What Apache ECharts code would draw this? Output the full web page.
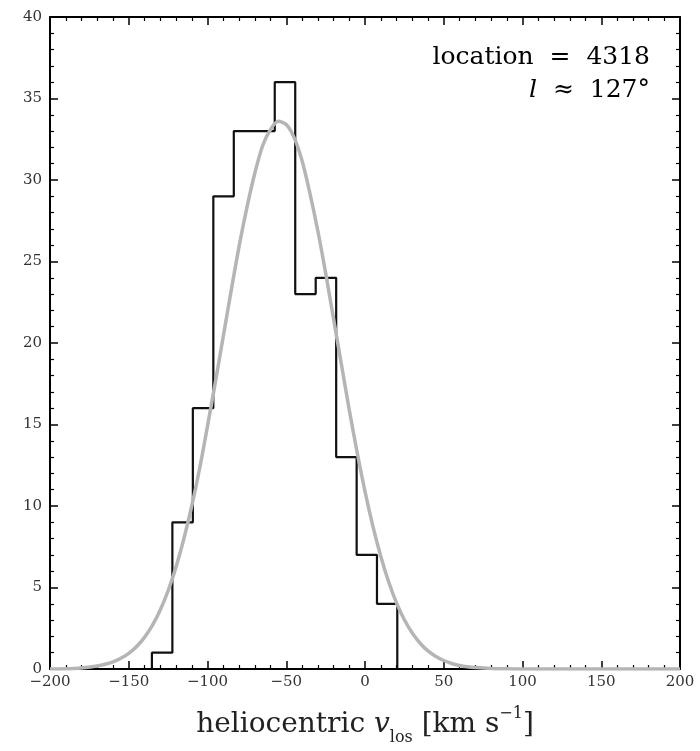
<!DOCTYPE html>
<html><head><meta charset="utf-8">
<script src="https://cdn.jsdelivr.net/npm/echarts@6/dist/echarts.min.js"></script>
<style>html,body{margin:0;padding:0;background:#fff}#c{width:700px;height:751px}</style>
</head><body><div id="c"></div>
<script>
// histogram bin edges (km/s) and counts
const binEdges = [-135.3, -122.3, -109.3, -96.3, -83.3, -70.3, -57.3, -44.3, -31.3, -18.3, -5.3, 7.6, 20.5];
const binCounts = [1, 9, 16, 29, 33, 33, 36, 23, 24, 13, 7, 4];
// grey fitted curve
const curveX = [-200,-185,-170,-165,-160,-155,-150,-145,-140,-135,-130,-125,-120,-115,-110,-105,-100,-95,-90,-85,-80,-75,-70,-65,-60,-55,-50,-45,-40,-35,-30,-25,-20,-15,-10,-5,0,5,10,15,20,25,30,35,40,45,50,55,60,65,70,80,90,100,125,150,175,200];
const curveY = [0,0.03,0.19,0.29,0.44,0.66,0.96,1.38,1.94,2.67,3.62,4.80,6.25,7.99,10.0,12.3,14.9,17.6,20.4,23.2,25.9,28.3,30.4,32.1,33.1,33.6,33.4,32.6,31.2,29.2,26.9,24.3,21.5,18.7,15.9,13.3,10.9,8.77,6.92,5.35,4.06,3.02,2.21,1.58,1.11,0.77,0.52,0.34,0.22,0.14,0.09,0.03,0.01,0,0,0,0,0];
const xTicks = [-200,-150,-100,-50,0,50,100,150,200];
const yTicks = [0,5,10,15,20,25,30,35,40];

const stepPts = [[binEdges[0], 0]];
for (let i = 0; i < binCounts.length; i++) {
  stepPts.push([binEdges[i], binCounts[i]]);
  stepPts.push([binEdges[i + 1], binCounts[i]]);
}
stepPts.push([binEdges[binEdges.length - 1], 0]);
const curvePts = curveX.map((x, i) => [x, curveY[i]]);

const serif = '"DejaVu Serif", "Liberation Serif", serif';
const fmt = v => String(v).replace('-', '\u2212');
const tickCommon = {
  axisLine: {show: true, onZero: false, lineStyle: {color: '#000', width: 2}},
  axisTick: {show: true, inside: true, length: 8, lineStyle: {color: '#000', width: 1.5}},
  minorTick: {show: true, splitNumber: 5, length: 4, lineStyle: {color: '#000', width: 1.2}},
  splitLine: {show: false}
};
const chart = echarts.init(document.getElementById('c'));
chart.setOption({
  animation: false,
  backgroundColor: '#fff',
  grid: {left: 50, right: 20, top: 17, bottom: 81},
  xAxis: [
    Object.assign({type: 'value', min: -200, max: 200, interval: 50, position: 'bottom',
      axisLabel: {show: true, margin: 6, fontFamily: serif, fontSize: 15, color: '#333', formatter: fmt},
      name: '{n|heliocentric }{i|v}{s|los}{n| [km s}{p|\u22121}{n|]}',
      nameLocation: 'middle', nameGap: 42,
      nameTextStyle: {rich: {
        n: {fontFamily: serif, fontSize: 28, color: '#222', verticalAlign: 'bottom'},
        i: {fontFamily: serif, fontSize: 28, fontStyle: 'italic', color: '#222', verticalAlign: 'bottom'},
        s: {fontFamily: serif, fontSize: 16, color: '#222', verticalAlign: 'bottom', padding: [0,0,-7,0]},
        p: {fontFamily: serif, fontSize: 16, color: '#222', verticalAlign: 'top', padding: [-5,0,0,0]}
      }}
    }, tickCommon),
    Object.assign({type: 'value', min: -200, max: 200, interval: 50, position: 'top',
      axisLabel: {show: false}}, tickCommon)
  ],
  yAxis: [
    Object.assign({type: 'value', min: 0, max: 40, interval: 5, position: 'left',
      axisLabel: {show: true, margin: 8, fontFamily: serif, fontSize: 15, color: '#333', formatter: fmt}}, tickCommon),
    Object.assign({type: 'value', min: 0, max: 40, interval: 5, position: 'right',
      axisLabel: {show: false}}, tickCommon)
  ],
  graphic: [{
    type: 'text', right: 50, top: 45, z: 10,
    style: {
      text: '{n|location  =  4318}\n{i|l}{n|  \u2248  127\u00b0}',
      align: 'right',
      rich: {
        n: {fontFamily: serif, fontSize: 25, color: '#222', align: 'right', lineHeight: 33},
        i: {fontFamily: serif, fontSize: 25, fontStyle: 'italic', color: '#222', align: 'right', lineHeight: 33}
      }
    }
  }],
  series: [
    {type: 'line', data: stepPts, symbol: 'none', xAxisIndex: 0, yAxisIndex: 0,
      lineStyle: {color: '#111', width: 2.2}, z: 3},
    {type: 'line', data: curvePts, symbol: 'none', smooth: 0.3, xAxisIndex: 0, yAxisIndex: 0,
      lineStyle: {color: '#b5b5b5', width: 3.5}, z: 4}
  ]
});
</script></body></html>
